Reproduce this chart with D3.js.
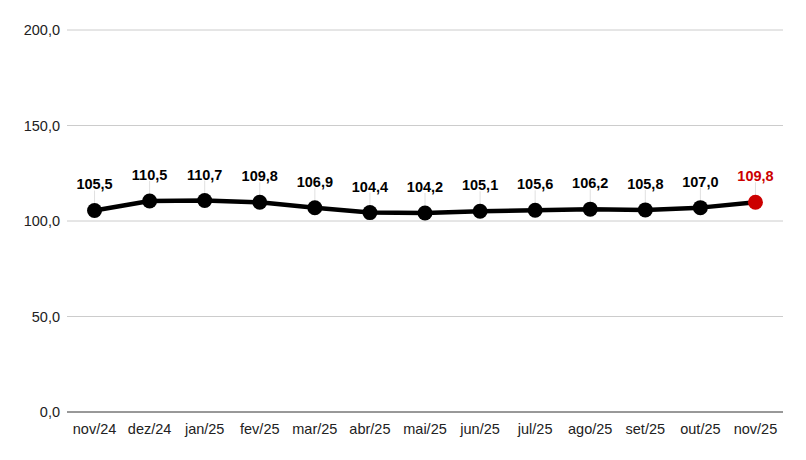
<!DOCTYPE html>
<html><head><meta charset="utf-8">
<script src="https://cdn.jsdelivr.net/npm/d3@7"></script>
<style>body{margin:0;background:#fff;} svg{display:block;font-family:"Liberation Sans",Arial,sans-serif;}</style>
</head><body>
<svg id="c" width="806" height="460"></svg>
<script>
const categories = ["nov/24","dez/24","jan/25","fev/25","mar/25","abr/25","mai/25","jun/25","jul/25","ago/25","set/25","out/25","nov/25"];
const values = [105.5,110.5,110.7,109.8,106.9,104.4,104.2,105.1,105.6,106.2,105.8,107.0,109.8];
const yTicks = [0,50,100,150,200];

(function(){
const svg = d3.select("#c");
const mLeft = 67, mRight = 783, mTop = 30, mBottom = 412;
const x = d3.scalePoint().domain(categories).range([mLeft, mRight]).padding(0.5);
const y = d3.scaleLinear().domain([0,200]).range([mBottom, mTop]);
const fmt = v => v.toFixed(1).replace(".", ",");

// grid
svg.append("g").selectAll("line").data(yTicks.filter(t=>t>0)).join("line")
  .attr("x1", mLeft).attr("x2", mRight).attr("y1", d=>y(d)).attr("y2", d=>y(d))
  .attr("stroke", "#cccccc").attr("stroke-width", 1);
// baseline
svg.append("line").attr("x1", mLeft).attr("x2", mRight).attr("y1", y(0)).attr("y2", y(0))
  .attr("stroke", "#333").attr("stroke-width", 1);

// y tick labels
svg.append("g").selectAll("text").data(yTicks).join("text")
  .attr("x", 60).attr("y", d=>y(d)).attr("dy", "0.35em").attr("text-anchor", "end")
  .attr("font-size", 14.5).attr("fill", "#222").text(d=>fmt(d));

// x labels
svg.append("g").selectAll("text").data(categories).join("text")
  .attr("x", d=>x(d)).attr("y", 434).attr("text-anchor", "middle")
  .attr("font-size", 14.5).attr("fill", "#222").text(d=>d);

const data = categories.map((c,i)=>({c, v: values[i], last: i===categories.length-1}));

// leader lines
svg.append("g").selectAll("line").data(data).join("line")
  .attr("x1", d=>x(d.c)).attr("x2", d=>x(d.c))
  .attr("y1", d=>y(d.v)-20).attr("y2", d=>y(d.v))
  .attr("stroke", "#e0e0e0").attr("stroke-width", 1);

// line
svg.append("path").datum(data)
  .attr("d", d3.line().x(d=>x(d.c)).y(d=>y(d.v)))
  .attr("fill", "none").attr("stroke", "#000").attr("stroke-width", 4.5).attr("stroke-linejoin","round");

// points
svg.append("g").selectAll("circle").data(data).join("circle")
  .attr("cx", d=>x(d.c)).attr("cy", d=>y(d.v)).attr("r", 7.5)
  .attr("fill", d=>d.last ? "#cc0000" : "#000");

// data labels
svg.append("g").selectAll("text").data(data).join("text")
  .attr("x", d=>x(d.c)).attr("y", d=>y(d.v)-21).attr("text-anchor", "middle")
  .attr("font-size", 14.5).attr("font-weight", "bold")
  .attr("fill", d=>d.last ? "#cc0000" : "#000").text(d=>fmt(d.v));
})();
</script>
</body></html>
